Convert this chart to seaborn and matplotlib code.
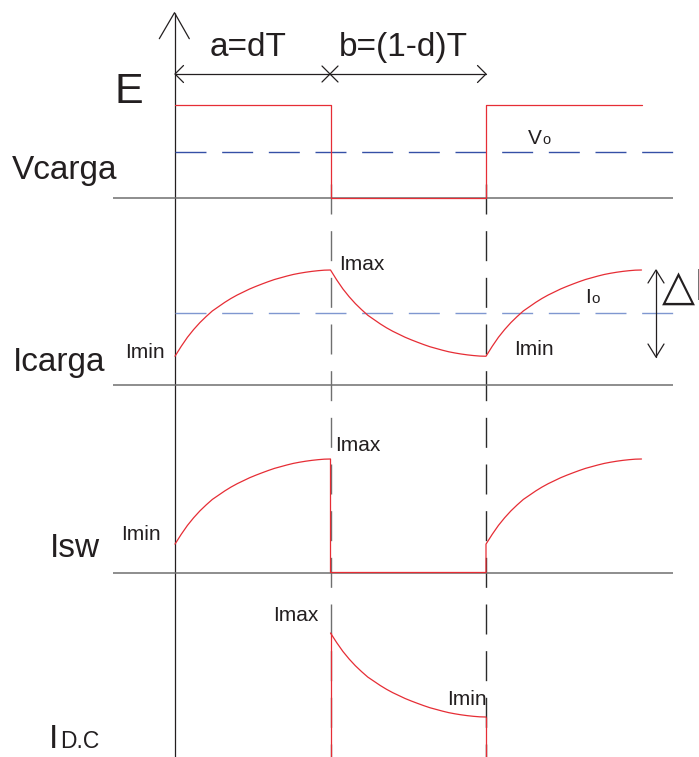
import matplotlib
matplotlib.use("Agg")
import matplotlib.pyplot as plt
import numpy as np
import pandas as pd
import seaborn as sns

sns.set_theme(style="white")
plt.rcParams["font.family"] = ["Liberation Sans", "DejaVu Sans"]
plt.rcParams["lines.scale_dashes"] = False

# ---------------------------------------------------------------- data
PERIOD = 1.0          # switching period T
DUTY = 0.5            # duty cycle d
T_END = 1.5           # waveforms are drawn for one and a half periods
GRID_SPAN = (-0.2, 1.6)

E = 1.0               # supply voltage
VO = DUTY * E         # mean load voltage
I_MAX = 1.0
I_MIN = 0.25
I_O = (I_MAX + I_MIN) / 2

# shape of the inductor current ramp (fraction of the ripple vs. fraction of the interval)
ramp_phase = [0.00, 0.04, 0.08, 0.12, 0.16, 0.20, 0.24, 0.28, 0.32, 0.36,
              0.40, 0.44, 0.48, 0.52, 0.56, 0.60, 0.64, 0.68, 0.72, 0.76,
              0.80, 0.84, 0.88, 0.92, 0.96, 1.00]
ramp_frac = [0.000, 0.115, 0.220, 0.310, 0.390, 0.460, 0.525, 0.575, 0.625, 0.670,
             0.710, 0.745, 0.780, 0.810, 0.838, 0.865, 0.890, 0.910, 0.930, 0.948,
             0.962, 0.974, 0.984, 0.992, 0.998, 1.000]

panel_labels = ["Vcarga", "Icarga", "Isw"]
interval_labels = ["a=dT", "b=(1-d)T"]

# ---------------------------------------------------------------- helpers
phase = np.asarray(ramp_phase)
frac = np.asarray(ramp_frac)


def rise(t0, t1):
    return t0 + (t1 - t0) * phase, I_MIN + (I_MAX - I_MIN) * frac


def fall(t0, t1):
    return t0 + (t1 - t0) * phase, I_MAX - (I_MAX - I_MIN) * frac


t_on = DUTY * PERIOD
# load voltage
t_v = [0.0, t_on, t_on, PERIOD, PERIOD, T_END]
v_v = [E, E, 0.0, 0.0, E, E]
# load current
r1t, r1v = rise(0.0, t_on)
f1t, f1v = fall(t_on, PERIOD)
r2t, r2v = rise(PERIOD, T_END)
t_load = np.concatenate([r1t, f1t, r2t])
i_load = np.concatenate([r1v, f1v, r2v])
# switch current
t_sw = np.concatenate([r1t, [t_on, PERIOD, PERIOD], r2t])
i_sw = np.concatenate([r1v, [0.0, 0.0, I_MIN], r2v])

# ---------------------------------------------------------------- layout
W, H = 699, 757
AXIS_PX, PERIOD_PX = 175, 311
XLIM = (-AXIS_PX / PERIOD_PX, (W - AXIS_PX) / PERIOD_PX)

RED = "#e62d35"
GREY = "#6f6f6f"
INK = "#231f20"
BLUE_DARK = "#3550a6"
BLUE_LIGHT = "#7f97d0"
HDASH = (0, (22.3, 11.3))
VDASH = (0, (21.6, 12.0))

fig = plt.figure(figsize=(W / 100, H / 100), dpi=100)


def overlay(xlim, ylim):
    ax = fig.add_axes([0, 0, 1, 1])
    ax.set_xlim(xlim)
    ax.set_ylim(ylim)
    ax.axis("off")
    ax.patch.set_alpha(0)
    return ax


def panel(baseline_px, px_per_unit):
    return overlay(XLIM, (-(H - baseline_px) / px_per_unit, baseline_px / px_per_unit))


# guides: time on x, pixel rows on y
guide = overlay(XLIM, (H, 0))
guide.vlines([t_on], 184, H, colors=GREY, lw=1.0, linestyles=VDASH)
guide.vlines([PERIOD], 184, H, colors="#2a2a2a", lw=1.0, linestyles=VDASH)
guide.vlines([0.0], 12.7, H, colors=INK, lw=0.9)

ax_v = panel(198, 93)
ax_i = panel(385, 115)
ax_s = panel(572.5, 113.5)
ax_d = panel(745, 112)

# Vcarga
ax_v.hlines(0, *GRID_SPAN, colors=GREY, lw=1.1)
ax_v.hlines(VO, 0, GRID_SPAN[1], colors=BLUE_DARK, lw=1.0, linestyles=HDASH)
sns.lineplot(x=t_v, y=v_v, sort=False, estimator=None, color=RED, lw=0.9, ax=ax_v)

# Icarga
ax_i.hlines(0, *GRID_SPAN, colors=GREY, lw=1.1)
ax_i.hlines(I_O, 0, GRID_SPAN[1], colors=BLUE_LIGHT, lw=1.0, linestyles=HDASH)
sns.lineplot(x=t_load, y=i_load, sort=False, estimator=None, color=RED, lw=0.9, ax=ax_i)

# Isw
ax_s.hlines(0, *GRID_SPAN, colors=GREY, lw=1.1)
sns.lineplot(x=t_sw, y=i_sw, sort=False, estimator=None, color=RED, lw=0.9, ax=ax_s)

# diode current
bottom = ax_d.get_ylim()[0]
sns.lineplot(x=f1t, y=f1v, sort=False, estimator=None, color=RED, lw=0.9, ax=ax_d)
ax_d.vlines([t_on], bottom, I_MAX, colors=RED, lw=0.9)
ax_d.vlines([PERIOD], bottom, I_MIN, colors=RED, lw=0.9)
for ax in (ax_v, ax_i, ax_s, ax_d):
    ax.set_xlim(XLIM)

# annotations in pixel coordinates
ann = overlay((0, W), (H, 0))
# axis arrow head
ann.plot([159.3, 174.5, 189.3], [38.7, 12.7, 38.7], color=INK, lw=0.9)
# interval dimension line
ann.plot([175, 486], [74, 74], color=INK, lw=0.9)
ann.plot([183.5, 175, 183.5], [65.5, 74, 82.5], color=INK, lw=0.9)
ann.plot([477.5, 486, 477.5], [65.5, 74, 82.5], color=INK, lw=0.9)
ann.plot([322, 338], [66, 82], color=INK, lw=0.9)
ann.plot([322, 338], [82, 66], color=INK, lw=0.9)
# ripple arrow
ann.plot([656, 656], [270, 357], color=INK, lw=0.9)
ann.plot([648, 656, 664], [283, 270, 283], color=INK, lw=0.9)
ann.plot([648, 656, 664], [344, 357, 344], color=INK, lw=0.9)

txt = dict(color=INK, ha="left", va="baseline")
ann.text(210, 56, interval_labels[0], fontsize=24, **txt)
ann.text(339, 56, interval_labels[1], fontsize=24, **txt)
ann.text(114, 103, "E", fontsize=31, **txt)
ann.text(12, 179, panel_labels[0], fontsize=24, **txt)
ann.text(13, 371, panel_labels[1], fontsize=24, **txt)
ann.text(50, 557, panel_labels[2], fontsize=24, **txt)
ann.text(49, 748, "I", fontsize=24, **txt)
ann.text(60, 748, "D.C", fontsize=16.5, **txt)

ann.text(528, 144, "V", fontsize=15, **txt)
ann.text(542, 144, "o", fontsize=10.5, **txt)
ann.text(585, 303, "I", fontsize=15, **txt)
ann.text(591, 303, "o", fontsize=11, **txt)
ann.text(662, 300, "△I", fontsize=31, family=["DejaVu Sans"], **txt)

for x, y in [(339, 270), (335, 451), (273, 621)]:
    ann.text(x, y, "Imax", fontsize=15, **txt)
for x, y in [(125, 358), (514, 355), (121, 540), (447, 705)]:
    ann.text(x, y, "Imin", fontsize=15, **txt)

fig.savefig("out.png", dpi=100)
